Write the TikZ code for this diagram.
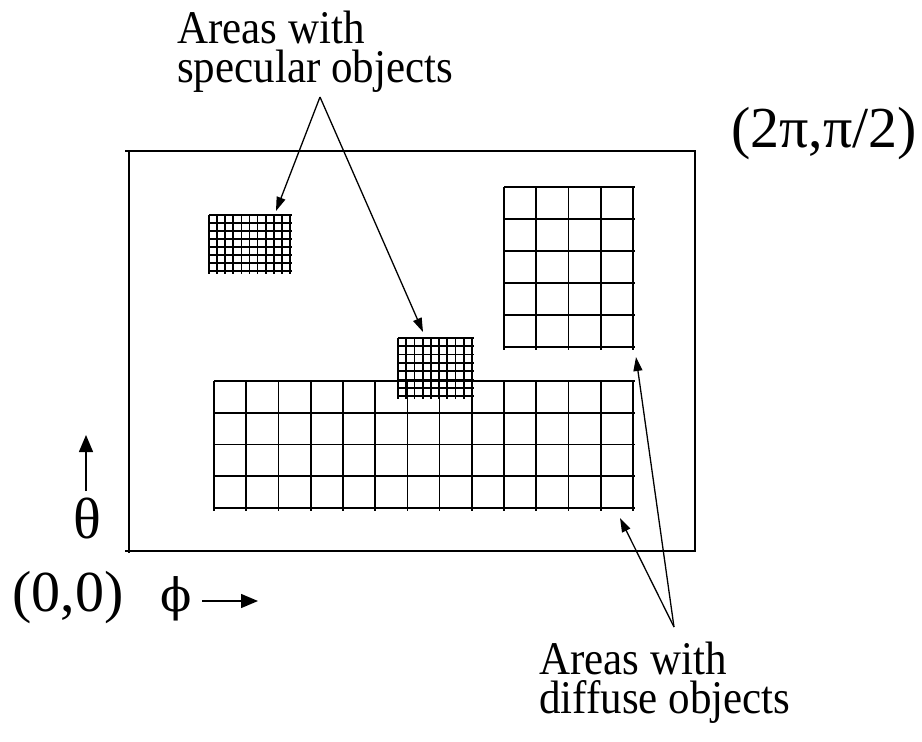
\documentclass[tikz,border=0pt]{standalone}
\usepackage{fontspec}
\usepackage{graphicx}
\setmainfont{Liberation Serif}
\newfontfamily\greekalt{DejaVu Serif}
\usetikzlibrary{arrows.meta}
\newcommand\drawmesh[6]{%
  \foreach \i in {0,...,#5}{\draw[gridline] ({#1+(#3-#1)*\i/#5},#2) -- ({#1+(#3-#1)*\i/#5},#4+3);}%
  \foreach \j in {0,...,#6}{\draw[gridline] (#1,{#2+(#4-#2)*\j/#6}) -- (#3+2,{#2+(#4-#2)*\j/#6});}%
}
\newcommand\tallish[1]{\scalebox{1}[1.09]{#1}}
\begin{document}
\begin{tikzpicture}[x=1pt,y=-1pt,
  gridline/.style={line width=1.7pt},
  frame/.style={line width=1.8pt},
  pointer/.style={line width=1.3pt,-{Triangle[length=14pt,width=9pt]}},
  axisarrow/.style={line width=1.4pt,-{Triangle[length=17pt,width=14pt]}},
  lbl/.style={inner sep=0pt,align=left,font=\fontsize{43}{39}\selectfont},
  biglbl/.style={inner sep=0pt,font=\fontsize{58}{64}\selectfont}]
\useasboundingbox (0,0) rectangle (922,742);
% outer frame
\draw[frame] (125,151) -- (695,151) -- (695,551) -- (125,551);
\draw[frame] (129,151) -- (129,553);
% grids
\drawmesh{209}{215}{290}{271}{10}{7}
\drawmesh{398}{338}{472}{396}{9}{7}
\drawmesh{504}{187}{633}{347}{4}{5}
\drawmesh{214}{381}{633}{508}{13}{4}
% texts (base anchor = baseline of the last line)
\node[lbl,anchor=base west] (spec) at (177,82) {\tallish{Areas with}\\\tallish{specular objects}};
\node[lbl,anchor=base west] (dif) at (539,713) {\tallish{Areas with}\\\tallish{diffuse objects}};
\node[biglbl,anchor=base west] (corner) at (731,147) {(2π,π/2)};
\node[biglbl,anchor=base west] (origin) at (12,611) {(0,0)};
\node[biglbl,anchor=base] (theta) at (87,538) {θ};
\node[inner sep=0pt,font=\greekalt\fontsize{46}{50}\selectfont,anchor=base] (phi) at (176,611) {ϕ};
% pointers
\coordinate (sp) at (320,97);
\coordinate (t1) at (276,211);
\coordinate (t2) at (423,332);
\coordinate (df) at (674,627);
\coordinate (t3) at (636,357);
\coordinate (t4) at (620,518);
\draw[pointer] (sp) -- (t1);
\draw[pointer] (sp) -- (t2);
\draw[pointer] (df) -- (t3);
\draw[pointer] (df) -- (t4);
% axis arrows
\coordinate (ua) at (86,491);
\coordinate (ub) at (86,435);
\coordinate (ra) at (202,601);
\coordinate (rb) at (258,601);
\draw[axisarrow] (ua) -- (ub);
\draw[axisarrow] (ra) -- (rb);
\end{tikzpicture}
\end{document}
